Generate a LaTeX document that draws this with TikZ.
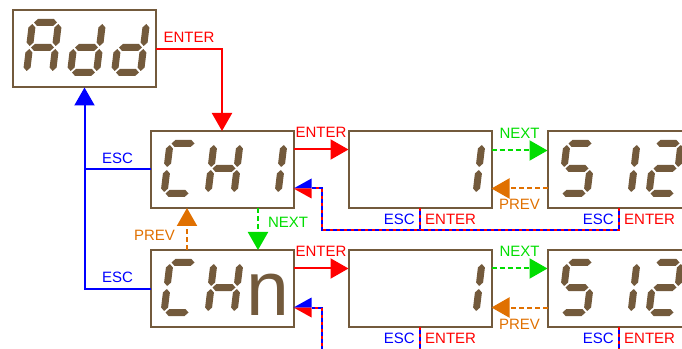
\documentclass[tikz,border=0pt]{standalone}
\usepackage{fontspec}
\setmainfont{Liberation Sans}
\usetikzlibrary{positioning, arrows.meta, calc}

\definecolor{lcdbrown}{RGB}{115,90,60}
\definecolor{escblue}{RGB}{0,0,255}
\definecolor{enterred}{RGB}{255,0,0}
\definecolor{nextgreen}{RGB}{0,221,0}
\definecolor{prevorange}{RGB}{224,112,0}

% one segment of a seven-segment digit (cell 26 x 50, origin bottom left)
\newcommand{\hseg}[1]{(1.5,#1) -- (5,#1+3.5) -- (21,#1+3.5) -- (24.5,#1) -- (21,#1-3.5) -- (5,#1-3.5) -- cycle}
\newcommand{\vseg}[2]{(#1,#2+1.5) -- (#1+3.5,#2+5) -- (#1+3.5,#2+20) -- (#1,#2+23.5) -- (#1-3.5,#2+20) -- (#1-3.5,#2+5) -- cycle}

% a slanted seven-segment digit: #1 = origin, #2 = list of lit segments
\newcommand{\lcddigit}[2]{%
  \begin{scope}[shift={(#1)}, xslant=0.12]
    \foreach \segname in {#2} {%
      \if a\segname \fill[lcdbrown] \hseg{50};\fi
      \if b\segname \fill[lcdbrown] \vseg{26}{25};\fi
      \if c\segname \fill[lcdbrown] \vseg{26}{0};\fi
      \if d\segname \fill[lcdbrown] \hseg{0};\fi
      \if e\segname \fill[lcdbrown] \vseg{0}{0};\fi
      \if f\segname \fill[lcdbrown] \vseg{0}{25};\fi
      \if g\segname \fill[lcdbrown] \hseg{25};\fi
    }
  \end{scope}}

\begin{document}
\begin{tikzpicture}[x=1pt, y=1pt,
        % Define styles for the display menu
        lcdbox/.style={draw=lcdbrown, line width=2pt, minimum width=143pt, minimum height=77pt, inner sep=0pt, outer sep=0pt},
        keytext/.style={font=\fontsize{15}{18}\selectfont, inner sep=0pt},
        bigtip/.style={-{Triangle[length=18pt, width=20pt]}},
        enterline/.style={draw=enterred, line width=2pt, bigtip},
        escline/.style={draw=escblue, line width=2pt},
        nextline/.style={draw=nextgreen, line width=2pt, dash pattern=on 5pt off 3pt, bigtip},
        prevline/.style={draw=prevorange, line width=2pt, dash pattern=on 5pt off 3pt, bigtip},
        escenter/.style={draw=escblue, line width=2pt, postaction={draw=enterred, line width=2pt, dash pattern=on 3pt off 4pt}}
    ]
    \useasboundingbox (0,0) rectangle (682,348);
    \clip (0,0) rectangle (682,348);

    % --- DISPLAYS ---
    \node[lcdbox] (add) at (84.5,299) {};
    \node[lcdbox, below right=43.5pt and -5.5pt of add] (ch1) {};
    \node[lcdbox, right=55pt of ch1] (val1) {};
    \node[lcdbox, right=56pt of val1] (max1) {};
    \node[lcdbox, below=42pt of ch1] (chn) {};
    \node[lcdbox, right=55pt of chn] (valn) {};
    \node[lcdbox, right=56pt of valn] (maxn) {};

    % --- DIGITS ---
    % Add
    \lcddigit{$(add.south west)+(13.5,15)$}{a,b,c,e,f,g}
    \lcddigit{$(add.south west)+(57.5,15)$}{b,c,d,e,g}
    \lcddigit{$(add.south west)+(101.5,15)$}{b,c,d,e,g}
    % CH1
    \lcddigit{$(ch1.south west)+(13.5,14.5)$}{a,d,e,f}
    \lcddigit{$(ch1.south west)+(57.5,14.5)$}{b,c,e,f,g}
    \lcddigit{$(ch1.south west)+(101.5,14.5)$}{b,c}
    % CHn
    \lcddigit{$(chn.south west)+(13.5,14.5)$}{a,d,e,f}
    \lcddigit{$(chn.south west)+(57.5,14.5)$}{b,c,e,f,g}
    \node[anchor=base, inner sep=0pt, text=lcdbrown, font=\fontsize{77}{80}\selectfont] (nglyph) at ($(chn.south west)+(117,12)$) {n};
    % values
    \lcddigit{$(val1.south west)+(101.5,14.5)$}{b,c}
    \lcddigit{$(valn.south west)+(101.5,14.5)$}{b,c}
    % maxima
    \lcddigit{$(max1.south west)+(13.5,14.5)$}{a,c,d,f,g}
    \lcddigit{$(max1.south west)+(57.5,14.5)$}{b,c}
    \lcddigit{$(max1.south west)+(101.5,14.5)$}{a,b,d,e,g}
    \lcddigit{$(maxn.south west)+(13.5,14.5)$}{a,c,d,f,g}
    \lcddigit{$(maxn.south west)+(57.5,14.5)$}{b,c}
    \lcddigit{$(maxn.south west)+(101.5,14.5)$}{a,b,d,e,g}

    % --- CONNECTIONS ---
    % Add to CH1
    \draw[enterline] (add.east) -| node[keytext, text=enterred, above=5pt, pos=0.25] {ENTER} (ch1.north);
    % back to Add
    \draw[escline] (ch1.west) -- node[keytext, text=escblue, above=5pt] {ESC} (ch1.west -| add.south);
    \draw[escline, bigtip] (chn.west) -| node[keytext, text=escblue, above=5pt, pos=0.25] {ESC} (add.south);

    % CH1 <-> CHn
    \draw[nextline] ([xshift=36pt]ch1.south) -- node[keytext, text=nextgreen, right=9pt, pos=0.35] {NEXT} ([xshift=36pt]chn.north);
    \draw[prevline] ([xshift=-35pt]chn.north) -- node[keytext, text=prevorange, left=11pt, pos=0.36] {PREV} ([xshift=-35pt]ch1.south);

    % Row of CH1
    \draw[enterline] ([yshift=20pt]ch1.east) -- node[keytext, text=enterred, above=11pt] {ENTER} ([yshift=20pt]val1.west);
    \draw[nextline] ([yshift=19pt]val1.east) -- node[keytext, text=nextgreen, above=11pt] {NEXT} ([yshift=19pt]max1.west);
    \draw[prevline] ([yshift=-19pt]max1.west) -- node[keytext, text=prevorange, below=9.5pt] {PREV} ([yshift=-19pt]val1.east);
    \coordinate (bus1) at ($(ch1.south east)+(28,-22)$);
    \draw[escenter] (max1.south) |- (bus1) |- ([shift={(18pt,-19pt)}]ch1.east);
    \draw[escenter] (val1.south) -- (val1.south |- bus1);
    \fill[escblue] ([yshift=-19pt]ch1.east) -- ++(18,10) -- ++(0,-10) -- cycle;
    \fill[enterred] ([yshift=-19pt]ch1.east) -- ++(18,-10) -- ++(0,10) -- cycle;
    \node[keytext, text=escblue, anchor=north east] (esc1) at ($(val1.south)+(-5,-6)$) {ESC};
    \node[keytext, text=enterred, anchor=north west] (ent1) at ($(val1.south)+(5,-6)$) {ENTER};
    \node[keytext, text=escblue, anchor=north east] (esc2) at ($(max1.south)+(-5,-6)$) {ESC};
    \node[keytext, text=enterred, anchor=north west] (ent2) at ($(max1.south)+(5,-6)$) {ENTER};

    % Row of CHn (continues below the page)
    \draw[enterline] ([yshift=20pt]chn.east) -- node[keytext, text=enterred, above=11pt] {ENTER} ([yshift=20pt]valn.west);
    \draw[nextline] ([yshift=20pt]valn.east) -- node[keytext, text=nextgreen, above=11pt] {NEXT} ([yshift=20pt]maxn.west);
    \draw[prevline] ([yshift=-19pt]maxn.west) -- node[keytext, text=prevorange, below=10.5pt] {PREV} ([yshift=-19pt]valn.east);
    \coordinate (busn) at ($(chn.south east)+(28,-32)$);
    \draw[escenter] (maxn.south) |- (busn) |- ([shift={(18pt,-19pt)}]chn.east);
    \draw[escenter] (valn.south) -- (valn.south |- busn);
    \fill[escblue] ([yshift=-19pt]chn.east) -- ++(18,10) -- ++(0,-10) -- cycle;
    \fill[enterred] ([yshift=-19pt]chn.east) -- ++(18,-10) -- ++(0,10) -- cycle;
    \node[keytext, text=escblue, anchor=north east] (esc3) at ($(valn.south)+(-5,-6)$) {ESC};
    \node[keytext, text=enterred, anchor=north west] (ent3) at ($(valn.south)+(5,-6)$) {ENTER};
    \node[keytext, text=escblue, anchor=north east] (esc4) at ($(maxn.south)+(-5,-6)$) {ESC};
    \node[keytext, text=enterred, anchor=north west] (ent4) at ($(maxn.south)+(5,-6)$) {ENTER};

\end{tikzpicture}
\end{document}
